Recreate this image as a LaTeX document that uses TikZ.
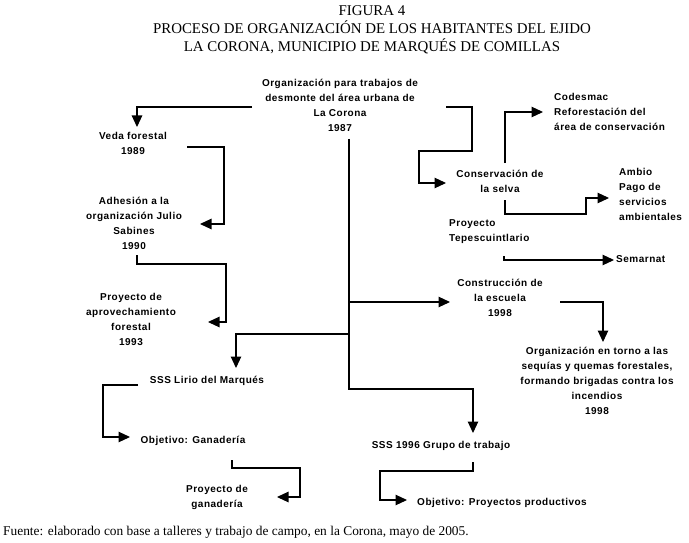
\documentclass[tikz,border=0pt]{standalone}
\usepackage{fontspec}
\setmainfont{Liberation Serif}
\newfontfamily\labfont{Liberation Sans}[LetterSpace=5]
\usetikzlibrary{arrows.meta,calc}
\tikzset{
  lbl/.style={font=\labfont\bfseries\fontsize{10}{15}\selectfont, align=center, inner sep=0pt},
  lbll/.style={lbl, align=left, anchor=west},
  conn/.style={line width=1.1pt, -{Triangle[length=11.5pt,width=10.5pt]}},
  titletxt/.style={font=\fontsize{14.9}{18}\selectfont, align=center, inner sep=0pt},
  foot/.style={font=\fontsize{13.4}{16}\selectfont, anchor=west, inner sep=0pt}
}
\begin{document}
\begin{tikzpicture}[x=1pt,y=-1pt]
\useasboundingbox (0,0) rectangle (689,543);
\node[titletxt] (title) at (372,30) {FIGURA 4\\PROCESO DE ORGANIZACIÓN DE LOS HABITANTES DEL EJIDO\\LA CORONA, MUNICIPIO DE MARQUÉS DE COMILLAS};
\node[lbl] (top) at (340,105.5) {Organización para trabajos de\\desmonte del área urbana de\\La Corona\\1987};
\node[lbl] (veda) at (133,143.5) {Veda forestal\\1989};
\node[lbl] (adh) at (134,223) {Adhesión a la\\organización Julio\\Sabines\\1990};
\node[lbl] (proy) at (131,319) {Proyecto de\\aprovechamiento\\forestal\\1993};
\node[lbl] (conserv) at (500,181) {Conservación de\\la selva};
\node[lbll] (codesmac) at (554,112) {Codesmac\\Reforestación del\\área de conservación};
\node[lbll] (ambio) at (619,194.5) {Ambio\\Pago de\\servicios\\ambientales};
\node[lbll] (tepes) at (449,231.5) {Proyecto\\Tepescuintlario};
\node[lbll] (semarnat) at (616,259) {Semarnat};
\node[lbl] (escuela) at (500,298) {Construcción de\\la escuela\\1998};
\node[lbl] (incendios) at (597,381) {Organización en torno a las\\sequías y quemas forestales,\\formando brigadas contra los\\incendios\\1998};
\node[lbl] (lirio) at (207,381) {SSS Lirio del Marqués};
\node[lbl] (objg) at (193,441) {Objetivo: Ganadería};
\node[lbl] (proyg) at (217,497.5) {Proyecto de\\ganadería};
\node[lbl] (sss96) at (441,446) {SSS 1996 Grupo de trabajo};
\node[lbl] (objp) at (502,503) {Objetivo: Proyectos productivos};
\node[foot] (fuente) at (3,532) {Fuente: elaborado con base a talleres y trabajo de campo, en la Corona, mayo de 2005.};

\draw[conn] ($(top)+(-88,1.5)$) -| ($(veda)+(4,-16.5)$);
\draw[conn] ($(top)+(106,1.5)$) -- ++(26,0) -- ++(0,44) -- ++(-53,0) |- ($(conserv)+(-54,2)$);
\draw[conn] ($(veda)+(54,3.5)$) -- ++(37,0) |- ($(adh)+(66,1)$);
\draw[conn] ($(adh)+(3,32)$) -- ++(0,9) -- ++(89,0) |- ($(proy)+(77,3)$);
\draw[conn] ($(top)+(9,33.5)$) -- ++(0,250) -| ($(sss96)+(32,-13)$);
\draw[conn] ($(top)+(9,196.5)$) -- ($(escuela)+(-50,4)$);
\draw[conn] ($(top)+(9,228.5)$) -| ($(lirio)+(29,-13)$);
\draw[conn] ($(lirio)+(-69,4)$) -- ++(-35,0) |- ($(objg)+(-63,-4)$);
\draw[conn] ($(objg)+(39,19)$) -- ++(0,8) -- ++(68,0) |- ($(proyg)+(60,-0.5)$);
\draw[conn] ($(sss96)+(32,16)$) -- ++(0,9) -- ++(-93,0) |- ($(objp)+(-95,-3)$);
\draw[conn] ($(escuela)+(60,4)$) -| ($(incendios)+(6,-39)$);
\draw[conn] ($(conserv)+(5,-18)$) |- ($(codesmac.west)+(-11,0)$);
\draw[conn] ($(conserv)+(5,19)$) -- ++(0,14) -- ++(81,0) |- ($(ambio.west)+(-10,3.5)$);
\draw[conn] ($(tepes.west)+(55,24.5)$) -- ++(0,4) -- ($(semarnat.west)+(-2,1)$);
\end{tikzpicture}
\end{document}
